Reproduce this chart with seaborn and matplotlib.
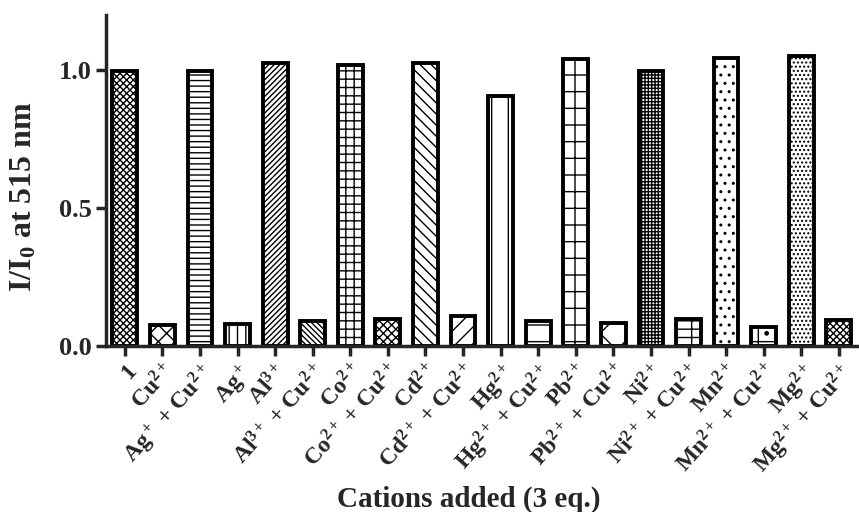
import matplotlib
matplotlib.use("Agg")
import matplotlib.pyplot as plt
import seaborn as sns
import pandas as pd

categories = ["1", "Cu2+", "Ag+ + Cu2+", "Ag+", "Al3+", "Al3+ + Cu2+", "Co2+", "Co2+ + Cu2+",
              "Cd2+", "Cd2+ + Cu2+", "Hg2+", "Hg2+ + Cu2+", "Pb2+", "Pb2+ + Cu2+",
              "Ni2+", "Ni2+ + Cu2+", "Mn2+", "Mn2+ + Cu2+", "Mg2+", "Mg2+ + Cu2+"]
values = [0.995, 0.075, 0.995, 0.08, 1.025, 0.09, 1.02, 0.10, 1.025, 0.11,
          0.905, 0.09, 1.04, 0.085, 0.995, 0.10, 1.045, 0.07, 1.05, 0.095]
tick_labels = ["1", "Cu$^{2+}$", "Ag$^+$ + Cu$^{2+}$", "Ag$^+$", "Al$^{3+}$", "Al$^{3+}$ + Cu$^{2+}$",
               "Co$^{2+}$", "Co$^{2+}$ + Cu$^{2+}$", "Cd$^{2+}$", "Cd$^{2+}$ + Cu$^{2+}$",
               "Hg$^{2+}$", "Hg$^{2+}$ + Cu$^{2+}$", "Pb$^{2+}$", "Pb$^{2+}$ + Cu$^{2+}$",
               "Ni$^{2+}$", "Ni$^{2+}$ + Cu$^{2+}$", "Mn$^{2+}$", "Mn$^{2+}$ + Cu$^{2+}$",
               "Mg$^{2+}$", "Mg$^{2+}$ + Cu$^{2+}$"]
hatches = ["xxxxx", "XX", "---", "||", "//////", "\\\\\\\\\\\\", "++", "xxxx",
           "\\\\\\", "//", "|", "-", "+", "x", "+++++", "-+", "..", "+.", "....", "xxxxx"]

sns.set_style("ticks")
plt.rcParams["font.family"] = ["Liberation Serif", "DejaVu Serif"]
plt.rcParams["font.weight"] = "bold"
plt.rcParams["mathtext.fontset"] = "custom"
plt.rcParams["mathtext.rm"] = "Liberation Serif:bold"
plt.rcParams["mathtext.bf"] = "Liberation Serif:bold"
plt.rcParams["mathtext.it"] = "Liberation Serif:bold"
plt.rcParams["mathtext.default"] = "rm"
plt.rcParams["hatch.linewidth"] = 1.0

df = pd.DataFrame({"cat": categories, "val": values})

fig = plt.figure(figsize=(8.59, 5.12), dpi=100)
ax = fig.add_axes([0.1234, 0.324, 0.875, 0.647])
sns.barplot(data=df, x="cat", y="val", color="white", edgecolor="black",
            linewidth=2.8, width=0.66, ax=ax, saturation=1)
for p, h in zip(ax.patches, hatches):
    p.set_hatch(h)
    p.set_facecolor("white")
    p.set_edgecolor("black")

ax.set_ylim(0, 1.2)
ax.set_xlim(-0.5, 19.5)
ax.set_yticks([0.0, 0.5, 1.0])
ax.set_yticklabels(["0.0", "0.5", "1.0"], fontsize=19, fontweight="bold")
ax.set_xticks(range(len(categories)))
ax.set_xticklabels(tick_labels, rotation=48, ha="right", rotation_mode="anchor",
                   fontsize=17, fontweight="bold")
ax.set_xlabel("Cations added (3 eq.)", fontsize=21, fontweight="bold")
ax.set_ylabel("I/I$_0$ at 515 nm", fontsize=23, fontweight="bold")
ax.xaxis.set_label_coords(0.483, -0.42)
ax.yaxis.set_label_coords(-0.09, 0.45)
sns.despine(ax=ax)
for s in ["left", "bottom"]:
    ax.spines[s].set_linewidth(2.5)
ax.tick_params(axis="both", width=2.5, length=7, direction="out", pad=3)

fig.savefig("out.png", dpi=100)
